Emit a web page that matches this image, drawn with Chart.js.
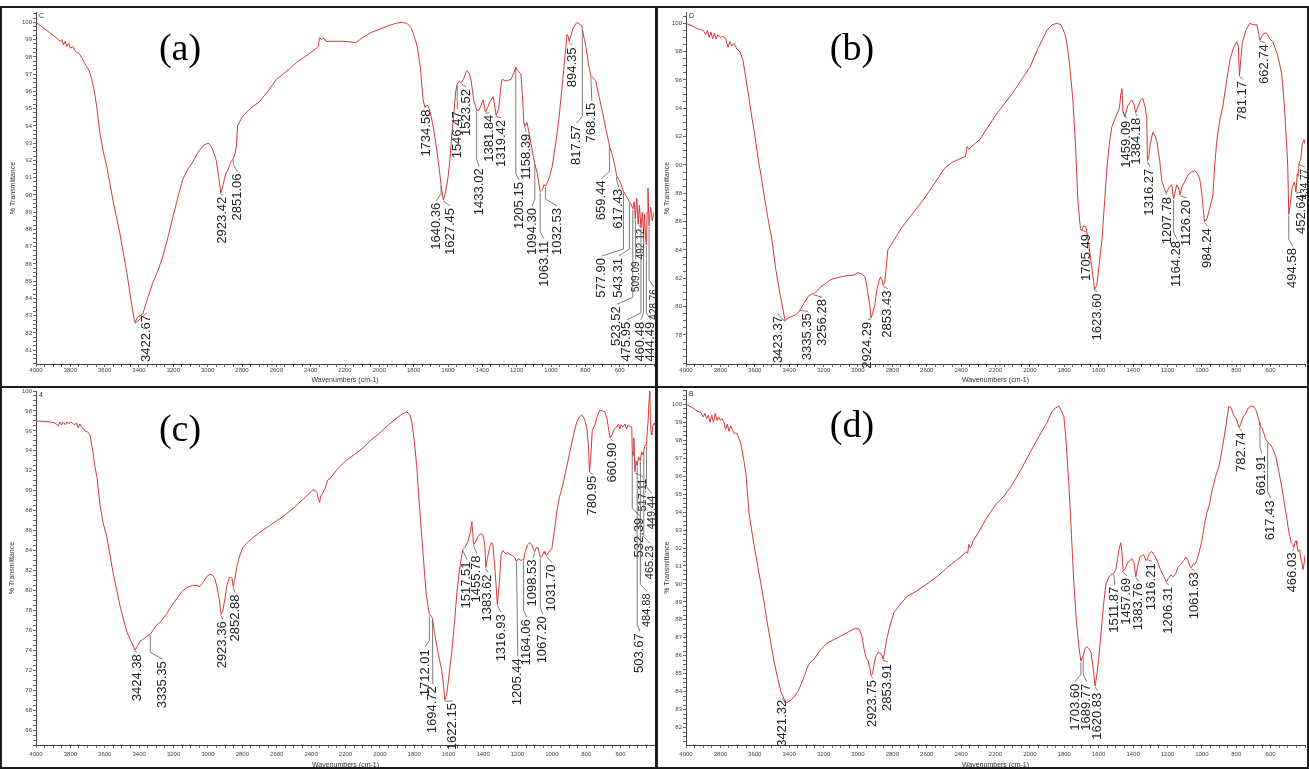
<!DOCTYPE html>
<html>
<head>
<meta charset="utf-8">
<title>FTIR spectra</title>
<script src="https://cdn.jsdelivr.net/npm/chart.js@4.4.0/dist/chart.umd.min.js"></script>
<style>
  body { margin: 0; background: #fff; width: 1309px; height: 770px; position: relative; overflow: hidden; }
  canvas { position: absolute; }
  .frame { position: absolute; border: 2px solid #1e1e1e; box-sizing: border-box; }
  .tag { position: absolute; font-family: "Liberation Serif", "Times New Roman", serif; font-size: 38px; color: #000;
         transform: translate(-50%, -50%); white-space: nowrap; }
</style>
</head>
<body>
<canvas id="chartA" width="653" height="378" style="left:2px;top:8px"></canvas>
<canvas id="chartB" width="650" height="378" style="left:657px;top:8px"></canvas>
<canvas id="chartC" width="653" height="382" style="left:2px;top:388px"></canvas>
<canvas id="chartD" width="650" height="382" style="left:657px;top:388px"></canvas>

<div class="tag" style="left:180px;top:47px">(a)</div>
<div class="tag" style="left:852px;top:47px">(b)</div>
<div class="tag" style="left:180px;top:428px">(c)</div>
<div class="tag" style="left:852px;top:424px">(d)</div>

<div class="frame" style="left:0;top:6px;width:658px;height:382px"></div>
<div class="frame" style="left:655px;top:6px;width:654px;height:382px"></div>
<div class="frame" style="left:0;top:386px;width:658px;height:383px"></div>
<div class="frame" style="left:655px;top:386px;width:654px;height:383px"></div>

<script>
// wavenumber (cm-1), % transmittance
var specA = [[4000,100.0],[3960,99.7],[3920,99.4],[3880,99.1],[3860,98.9],[3850,99.0],[3840,98.7],[3830,98.9],[3820,98.6],[3810,98.8],[3800,98.5],[3785,98.6],[3770,98.3],[3750,98.2],[3730,97.9],[3715,97.6],[3703,97.4],[3690,97.2],[3675,96.7],[3660,96.0],[3646,95.1],[3628,93.6],[3610,92.6],[3587,91.6],[3552,89.7],[3512,87.8],[3471,85.5],[3442,83.6],[3430,82.9],[3422.67,82.6],[3410,82.9],[3395,83.0],[3378,83.1],[3350,84.0],[3320,84.9],[3290,85.6],[3262,86.4],[3230,87.6],[3203,88.7],[3175,89.8],[3145,90.9],[3115,91.5],[3087,91.9],[3060,92.4],[3046,92.6],[3020,92.9],[2998,93.0],[2985,92.9],[2970,92.6],[2950,92.0],[2935,91.0],[2923.42,90.1],[2910,90.6],[2895,91.2],[2880,91.5],[2865,91.9],[2851.06,92.1],[2840,92.4],[2832,92.9],[2826,94.0],[2800,94.5],[2773,94.8],[2740,95.1],[2698,95.4],[2650,96.0],[2599,96.7],[2560,97.0],[2523,97.3],[2480,97.7],[2420,98.1],[2380,98.4],[2366,98.5],[2355,98.6],[2349,99.1],[2335,99.0],[2325,99.1],[2310,98.9],[2291,98.9],[2250,98.9],[2200,98.9],[2157,98.85],[2140,98.8],[2100,99.1],[2050,99.4],[2000,99.6],[1950,99.8],[1900,99.95],[1872,100.0],[1840,99.95],[1815,99.7],[1800,99.3],[1779,98.6],[1760,97.3],[1745,95.5],[1734.58,95.1],[1720,95.2],[1709,95.0],[1695,94.4],[1680,93.6],[1665,92.6],[1651,91.5],[1640.36,90.6],[1627.45,89.7],[1615,90.1],[1600,91.0],[1590,91.9],[1578,93.5],[1564,94.9],[1555,96.0],[1546.47,96.4],[1535,96.6],[1523.52,96.5],[1510,96.7],[1495,97.1],[1488,97.2],[1475,97.0],[1465,96.6],[1450,95.5],[1433.02,94.9],[1420,94.9],[1407,95.2],[1395,95.5],[1381.84,94.8],[1372,95.0],[1355,95.4],[1337,95.7],[1325,95.0],[1319.42,94.6],[1305,95.0],[1290,96.4],[1285,96.7],[1260,96.6],[1233,96.7],[1215,97.1],[1205.15,97.4],[1195,97.2],[1175,97.0],[1165,95.5],[1158.39,94.2],[1150,94.0],[1140,94.2],[1128,93.6],[1110,92.6],[1094.30,91.8],[1081,91.3],[1070,90.6],[1063.11,90.2],[1050,90.3],[1040,90.6],[1032.53,90.5],[1023,90.7],[1010,91.0],[994,91.6],[975,92.8],[953,94.5],[940,95.8],[924,97.4],[907,99.3],[900,99.2],[894.35,98.9],[885,99.2],[870,99.7],[849,100.0],[835,99.9],[820,99.8],[817.57,99.6],[805,99.0],[797,98.6],[780,97.5],[768.15,96.9],[755,96.8],[739,96.6],[720,95.7],[700,94.8],[680,93.8],[660,92.9],[659.44,92.8],[645,92.4],[630,91.8],[617.43,91.1],[605,90.9],[590,90.6],[577.90,90.2],[560,89.9],[543.31,89.6],[535,89.5],[523.52,89.2],[515,89.6],[509.09,88.6],[500,89.8],[492.12,88.3],[485,89.4],[475.95,88.1],[468,89.0],[460.48,87.7],[455,88.9],[450,87.6],[444.49,87.1],[440,89.0],[435,90.4],[428.76,88.2],[420,89.3],[410,88.5],[400,89.0]];

var specB = [[4000,100.0],[3960,99.8],[3930,99.6],[3900,99.5],[3885,99.2],[3875,99.5],[3865,99.0],[3855,99.4],[3845,98.9],[3835,99.3],[3825,98.9],[3815,99.2],[3800,99.0],[3785,99.1],[3770,98.9],[3755,98.3],[3745,98.7],[3733,98.4],[3720,98.6],[3705,98.2],[3686,98.0],[3669,97.4],[3658,96.6],[3645,95.6],[3630,94.4],[3616,93.3],[3600,92.1],[3581,90.5],[3560,89.0],[3541,87.5],[3520,86.0],[3500,84.7],[3480,82.8],[3465,81.7],[3450,80.7],[3436,79.8],[3423.37,79.0],[3407,79.2],[3385,79.3],[3366,79.4],[3345,79.6],[3335.35,79.8],[3315,80.2],[3291,80.7],[3270,80.9],[3256.28,80.9],[3240,81.1],[3215,81.4],[3192,81.6],[3160,81.9],[3134,82.0],[3100,82.1],[3058,82.2],[3030,82.2],[3000,82.4],[2975,82.3],[2959,82.1],[2950,81.6],[2942,80.9],[2930,80.0],[2924.29,79.2],[2915,79.5],[2901,80.2],[2890,81.2],[2878,81.8],[2868,82.1],[2860,81.9],[2853.43,81.5],[2845,81.7],[2837,82.6],[2826,84.0],[2800,84.5],[2785,84.8],[2750,85.5],[2700,86.3],[2628,87.4],[2560,88.6],[2494,89.8],[2450,90.2],[2395,90.5],[2375,90.6],[2365,91.3],[2355,91.1],[2340,91.3],[2320,91.5],[2291,91.8],[2200,93.5],[2099,95.1],[2050,96.0],[2000,96.9],[1950,98.3],[1901,99.5],[1870,99.9],[1843,100.0],[1820,99.9],[1808,99.6],[1795,99.2],[1785,98.6],[1770,97.2],[1750,94.6],[1735,91.5],[1721,87.5],[1710,86.0],[1705.49,85.5],[1698,85.4],[1688,85.7],[1674,85.6],[1660,84.6],[1640,82.8],[1630,81.8],[1623.60,81.2],[1611,81.5],[1595,83.2],[1581,84.7],[1565,87.5],[1552,89.8],[1538,91.5],[1523,92.7],[1494,93.6],[1480,94.0],[1470,95.1],[1465,95.4],[1459.09,93.8],[1448,93.4],[1430,94.2],[1407,94.6],[1395,94.3],[1384.18,93.7],[1372,94.1],[1355,94.6],[1343,94.7],[1330,94.1],[1320,93.3],[1316.27,90.3],[1308,90.6],[1300,91.5],[1285,92.3],[1270,92.0],[1262,91.7],[1245,90.3],[1233,88.9],[1220,88.4],[1207.78,88.0],[1195,88.3],[1185,88.5],[1175,88.6],[1164.28,87.6],[1155,88.1],[1146,88.6],[1136,88.4],[1126.20,87.9],[1115,88.5],[1100,88.8],[1081,89.3],[1060,89.5],[1041,89.6],[1025,89.4],[1012,89.0],[1000,88.0],[990,86.6],[984.24,86.0],[970,86.2],[955,86.9],[936,87.8],[925,90.0],[913,91.7],[895,93.2],[878,94.1],[860,95.6],[837,97.4],[815,98.3],[797,98.7],[788,98.4],[781.17,96.3],[775,97.2],[765,98.6],[744,99.5],[721,100.0],[700,99.9],[680,99.9],[670,99.3],[662.74,98.8],[650,99.1],[640,99.3],[622,99.3],[605,98.9],[587,98.7],[560,97.8],[535,96.4],[520,94.2],[507,91.5],[500,89.8],[494.58,86.5],[485,87.3],[475,88.4],[462,88.8],[452.64,88.1],[445,89.4],[440,89.2],[434.77,90.1],[425,90.4],[415,91.5],[405,91.8],[400,91.5]];

var specC = [[4000,97.0],[3960,96.95],[3920,96.9],[3890,96.8],[3870,96.5],[3860,96.9],[3850,96.6],[3840,96.9],[3830,96.6],[3820,96.9],[3810,96.7],[3800,96.9],[3790,96.8],[3775,96.6],[3765,96.8],[3755,96.3],[3745,96.7],[3730,96.3],[3715,96.0],[3700,95.9],[3686,95.6],[3678,94.8],[3669,93.9],[3658,92.5],[3645,91.3],[3628,88.6],[3610,86.8],[3587,85.3],[3552,81.8],[3512,78.5],[3490,77.0],[3471,75.8],[3450,75.0],[3436,74.5],[3424.38,74.0],[3410,74.4],[3395,74.9],[3378,75.1],[3355,75.4],[3335.35,75.6],[3320,76.0],[3300,76.5],[3279,76.8],[3260,77.2],[3238,77.7],[3210,78.5],[3180,79.2],[3150,79.9],[3122,80.3],[3090,80.5],[3064,80.5],[3046,80.4],[3025,80.9],[3006,81.4],[2990,81.6],[2977,81.6],[2960,81.2],[2948,80.4],[2935,79.2],[2923.36,77.6],[2913,78.0],[2900,79.3],[2890,80.5],[2875,81.3],[2865,81.3],[2860,81.2],[2852.88,80.4],[2845,81.0],[2832,82.4],[2815,83.5],[2797,84.3],[2770,84.8],[2738,85.3],[2700,85.8],[2650,86.4],[2600,87.0],[2564,87.4],[2500,88.3],[2450,89.1],[2400,89.9],[2390,90.1],[2375,90.0],[2366,89.8],[2358,89.2],[2350,88.8],[2345,89.5],[2337,89.6],[2320,90.2],[2302,91.1],[2291,91.2],[2250,92.1],[2200,93.0],[2150,93.6],[2099,94.3],[2050,95.1],[2000,95.8],[1950,96.6],[1901,97.3],[1870,97.7],[1843,97.9],[1825,97.6],[1814,96.9],[1800,95.0],[1785,92.3],[1770,88.5],[1750,83.9],[1730,79.5],[1712.01,77.6],[1700,77.4],[1694.72,77.2],[1680,75.5],[1660,73.6],[1640,72.0],[1630,70.5],[1622.15,69.0],[1611,69.6],[1600,71.2],[1582,73.8],[1565,77.0],[1552,79.8],[1538,82.0],[1523,83.6],[1517.51,84.1],[1506,84.3],[1488,84.9],[1475,85.8],[1465,86.9],[1460,85.8],[1455.78,84.6],[1448,84.7],[1430,85.4],[1415,85.7],[1401,85.6],[1390,84.6],[1383.62,82.3],[1375,83.2],[1360,84.4],[1350,84.8],[1343,84.6],[1330,82.0],[1316.93,78.6],[1305,80.8],[1295,83.6],[1285,84.0],[1270,83.7],[1255,83.8],[1244,83.6],[1230,83.5],[1215,83.3],[1205.44,82.9],[1195,83.2],[1180,83.0],[1169,83.1],[1164.06,83.0],[1155,83.9],[1140,84.6],[1128,84.8],[1115,84.5],[1105,84.0],[1098.53,83.9],[1090,84.3],[1081,84.3],[1072,83.7],[1067.20,83.3],[1058,83.4],[1045,83.9],[1040,83.7],[1031.70,83.5],[1020,83.8],[1000,84.2],[985,86.0],[971,87.9],[955,89.4],[936,90.6],[915,92.3],[895,93.9],[875,95.5],[855,96.9],[840,97.4],[826,97.6],[810,97.2],[797,96.3],[787,94.5],[780.95,91.9],[773,93.5],[765,96.0],[750,96.6],[735,97.5],[721,98.1],[705,98.0],[692,97.9],[680,97.3],[670,96.2],[660.90,95.3],[650,95.6],[640,96.1],[630,96.3],[622,96.4],[612,96.7],[605,96.2],[597,96.6],[587,96.4],[575,96.7],[565,96.2],[555,96.6],[545,96.4],[535,96.4],[532.39,94.0],[527,93.5],[523,95.3],[517.11,91.9],[510,93.0],[503.67,92.5],[495,93.4],[490,93.1],[484.88,93.0],[478,93.9],[470,93.6],[465.23,94.0],[458,94.6],[449.44,94.5],[445,96.0],[440,97.0],[433,99.5],[430,100.0],[427,97.0],[422,95.8],[419,95.6],[412,96.5],[405,96.8],[400,96.6]];

var specD = [[4000,100.0],[3960,99.8],[3930,99.6],[3913,99.55],[3900,99.3],[3890,99.5],[3880,99.2],[3870,99.4],[3860,99.0],[3850,99.4],[3840,99.0],[3830,99.5],[3820,99.1],[3810,99.3],[3800,99.1],[3790,99.2],[3779,99.0],[3770,98.6],[3760,98.9],[3750,98.5],[3740,98.8],[3730,98.6],[3721,98.4],[3705,98.4],[3692,98.1],[3683,97.9],[3674,97.4],[3662,96.8],[3651,96.1],[3634,94.0],[3620,93.1],[3605,92.2],[3585,91.1],[3564,90.0],[3546,89.0],[3529,87.9],[3508,86.8],[3488,85.7],[3468,84.8],[3448,84.0],[3430,83.6],[3421.32,83.4],[3413,83.4],[3395,83.5],[3372,83.7],[3350,84.0],[3331,84.4],[3310,84.9],[3297,85.3],[3280,85.6],[3256,85.8],[3220,86.3],[3180,86.7],[3140,86.9],[3099,87.1],[3060,87.3],[3023,87.5],[2994,87.5],[2977,87.1],[2965,86.4],[2953,85.9],[2940,85.7],[2930,85.3],[2923.75,84.9],[2915,85.0],[2905,85.6],[2895,86.0],[2880,86.2],[2866,86.1],[2860,86.0],[2853.91,85.8],[2845,86.2],[2831,87.0],[2810,87.8],[2791,88.4],[2750,88.9],[2715,89.3],[2660,89.6],[2599,90.0],[2540,90.4],[2483,90.9],[2430,91.3],[2390,91.6],[2372,91.8],[2362,91.7],[2355,92.2],[2345,92.0],[2330,92.4],[2297,92.9],[2250,93.7],[2200,94.4],[2150,94.9],[2105,95.5],[2050,96.4],[2000,97.3],[1948,98.2],[1900,99.0],[1872,99.6],[1850,99.8],[1831,99.9],[1815,99.6],[1802,99.3],[1790,98.0],[1773,95.5],[1758,92.7],[1744,90.0],[1730,88.0],[1715,86.5],[1703.60,85.7],[1696,85.9],[1689.77,86.0],[1680,86.4],[1669,86.5],[1657,86.4],[1645,86.2],[1632,85.3],[1620.83,84.3],[1610,85.0],[1600,85.8],[1587,87.2],[1572,88.8],[1558,90.0],[1540,90.4],[1529,90.5],[1511.87,90.6],[1500,90.8],[1490,91.4],[1480,92.0],[1471,92.3],[1465,91.8],[1457.69,90.7],[1448,90.8],[1430,91.2],[1407,91.4],[1395,91.2],[1383.76,90.4],[1375,90.9],[1360,91.5],[1345,91.6],[1337,91.6],[1325,91.3],[1316.21,91.4],[1305,91.7],[1291,91.8],[1275,91.6],[1260,91.3],[1245,90.9],[1230,90.6],[1215,90.3],[1206.31,90.1],[1195,90.3],[1180,90.5],[1165,90.4],[1151,90.6],[1140,90.9],[1122,91.1],[1105,91.3],[1093,91.5],[1080,91.3],[1070,91.0],[1061.63,90.9],[1050,91.1],[1040,91.1],[1029,91.3],[1015,91.8],[1000,92.4],[985,93.3],[970,94.0],[959,94.3],[940,95.2],[920,96.0],[901,96.5],[880,97.6],[860,98.8],[843,99.9],[830,99.8],[814,99.4],[800,99.2],[790,98.9],[782.74,98.7],[774,98.9],[760,99.3],[744,99.5],[730,99.8],[715,99.9],[700,99.9],[686,99.7],[675,99.4],[665,99.0],[661.91,98.8],[650,98.7],[640,98.4],[630,98.1],[617.43,97.9],[605,97.8],[590,97.6],[570,97.1],[555,96.4],[535,95.4],[515,94.2],[494,92.9],[480,92.3],[470,92.2],[466.03,92.0],[458,92.3],[452,92.4],[448,92.2],[440,91.8],[430,91.9],[425,91.4],[418,91.2],[412,90.8],[407,91.0],[400,91.6]];

// labelled peak positions (cm-1)
var peaksA = [3422.67, 2923.42, 2851.06, 1734.58, 1640.36, 1627.45, 1546.47, 1523.52, 1433.02, 1381.84, 1319.42, 1205.15, 1158.39, 1094.30, 1063.11, 1032.53, 894.35, 817.57, 768.15, 659.44, 617.43, 577.90, 543.31, 523.52, 509.09, 492.12, 475.95, 460.48, 444.49, 428.76];
var peaksB = [3423.37, 3335.35, 3256.28, 2924.29, 2853.43, 1705.49, 1623.60, 1459.09, 1384.18, 1316.27, 1207.78, 1164.28, 1126.20, 984.24, 781.17, 662.74, 494.58, 452.64, 434.77];
var peaksC = [3424.38, 3335.35, 2923.36, 2852.88, 1712.01, 1694.72, 1622.15, 1517.51, 1455.78, 1383.62, 1316.93, 1205.44, 1164.06, 1098.53, 1067.20, 1031.70, 780.95, 660.90, 532.39, 517.11, 503.67, 484.88, 465.23, 449.44];
var peaksD = [3421.32, 2923.75, 2853.91, 1703.60, 1689.77, 1620.83, 1511.87, 1457.69, 1383.76, 1316.21, 1206.31, 1061.63, 782.74, 661.91, 617.43, 466.03];

var xTicks = [4000, 3800, 3600, 3400, 3200, 3000, 2800, 2600, 2400, 2200, 2000, 1800, 1600, 1400, 1200, 1000, 800, 600];
var yTicksA = [81, 82, 83, 84, 85, 86, 87, 88, 89, 90, 91, 92, 93, 94, 95, 96, 97, 98, 99, 100];
var yTicksB = [78, 80, 82, 84, 86, 88, 90, 92, 94, 96, 98, 100];
var yTicksC = [66, 68, 70, 72, 74, 76, 78, 80, 82, 84, 86, 88, 90, 92, 94, 96, 98, 100];
var yTicksD = [82, 83, 84, 85, 86, 87, 88, 89, 90, 91, 92, 93, 94, 95, 96, 97, 98, 99, 100];

// where each peak label sits: [x in cm-1, top of text in %T, font size]
var spotsA = [[3355,83.1],[2913,89.95],[2826,91.3],[1727,95.0],[1669,89.6],[1587,89.3],[1546,94.9],[1494,96.2],[1419,91.6],[1360,94.7],[1291,94.4],[1186,90.8],[1145,93.6],[1110,89.3],[1041,87.4],[965,89.3],[878,98.6],[849,94.1],[762,95.4],[704,90.9],[605,90.4],[704,86.4],[605,86.4],[616,83.6],[506,86.2,10],[477,88.1,10],[558,82.7],[477,82.7],[419,82.7],[401,84.6,10]];
var spotsB = [[3465,79.4],[3291,79.6],[3209,80.6],[2942,79.0],[2826,81.2],[1674,85.2],[1605,81.0],[1436,93.2],[1378,93.4],[1302,89.8],[1203,87.8],[1145,84.7],[1087,87.6],[965,85.6],[762,96.0],[634,98.6],[471,84.2],[419,88.0],[401,89.8,10]];
var spotsC = [[3413,73.7],[3262,73.0],[2913,77.0],[2843,79.7],[1738,74.2],[1692,70.5],[1576,68.8],[1494,83.0],[1436,83.6],[1372,81.7],[1296,77.7],[1198,73.3],[1145,77.2],[1110,83.2],[1052,77.5],[1000,82.7],[762,91.6],[645,94.9],[488,87.4],[471,91.3,11],[488,75.8],[447,79.8,11],[430,84.6,11],[419,89.6,11]];
var spotsD = [[3442,83.6],[2913,84.7],[2826,85.6],[1738,84.5],[1669,84.5],[1605,84.0],[1506,89.9],[1436,90.4],[1366,90.1],[1291,91.2],[1192,89.9],[1041,90.7],[767,98.5],[651,97.2],[599,94.7],[471,91.8]];

var panels = [
    { id: 'chartA', spec: specA, peaks: peaksA, spots: spotsA, yTicks: yTicksA, yMin: 80.2, yMax: 100.6, minor: 0.25, mark: 'C',
      pad: { left: 0, right: 1, top: 4, bottom: 0 }, yWidth: 34, xHeight: 22, xTickPad: 0, xTitlePad: 2, yTitlePad: 7 },
    { id: 'chartB', spec: specB, peaks: peaksB, spots: spotsB, yTicks: yTicksB, yMin: 75.95, yMax: 100.8, minor: 0.5, mark: 'D',
      pad: { left: 0, right: 2, top: 4, bottom: 0 }, yWidth: 29, xHeight: 22, xTickPad: 0, xTitlePad: 2, yTitlePad: 6 },
    { id: 'chartC', spec: specC, peaks: peaksC, spots: spotsC, yTicks: yTicksC, yMin: 64.5, yMax: 100, minor: 0.5, mark: '4',
      pad: { left: 0, right: 0, top: 3, bottom: 0 }, yWidth: 34, xHeight: 25, xTickPad: 3, xTitlePad: 1, yTitlePad: 6 },
    { id: 'chartD', spec: specD, peaks: peaksD, spots: spotsD, yTicks: yTicksD, yMin: 81.03, yMax: 100.8, minor: 0.25, mark: 'B',
      pad: { left: 0, right: 2, top: 2, bottom: 0 }, yWidth: 29, xHeight: 25, xTickPad: 3, xTitlePad: 1, yTitlePad: 6 }
];

Chart.defaults.font.family = '"Liberation Sans", Arial, sans-serif';

function stepTicks(min, max, step) {
    var out = [];
    for (var k = Math.ceil(min / step); k * step <= max + 1e-9; k++) {
        out.push({ value: k * step });
    }
    return out;
}

function hasTick(list, v) {
    for (var i = 0; i < list.length; i++) {
        if (Math.abs(list[i] - v) < 1e-6) return true;
    }
    return false;
}

// rotated peak numbers with leader lines, plus the small sample mark
function labelPlugin(p) {
    return {
        id: 'peakLabels',
        afterDatasetsDraw: function (chart) {
            var ctx = chart.ctx;
            var x = chart.scales.x, y = chart.scales.y;
            ctx.save();
            ctx.lineWidth = 0.8;
            ctx.strokeStyle = '#5a5a5a';
            ctx.fillStyle = '#232323';
            p.peaks.forEach(function (wn, i) {
                var pt = p.spec.find(function (d) { return d[0] === wn; });
                if (!pt) return;
                var spot = p.spots[i];
                var px = x.getPixelForValue(wn);
                var py = y.getPixelForValue(pt[1]);
                var lx = x.getPixelForValue(spot[0]);
                var ly = y.getPixelForValue(spot[1]);
                ctx.beginPath();
                ctx.moveTo(px, py + 1);
                if (ly - py > 12 && Math.abs(lx - px) > 1.5) {
                    ctx.lineTo(px, ly - 8);
                }
                ctx.lineTo(lx, ly - 1);
                ctx.stroke();
                ctx.save();
                ctx.translate(lx, ly + 1);
                ctx.rotate(-Math.PI / 2);
                ctx.font = (spot[2] || 13) + 'px "Liberation Sans", Arial, sans-serif';
                ctx.textAlign = 'right';
                ctx.textBaseline = 'middle';
                ctx.fillText(wn.toFixed(2), 0, 0);
                ctx.restore();
            });
            ctx.font = '7px "Liberation Sans", Arial, sans-serif';
            ctx.textAlign = 'left';
            ctx.textBaseline = 'top';
            ctx.fillStyle = '#333';
            ctx.fillText(p.mark, chart.chartArea.left + 3, chart.chartArea.top + 1);
            ctx.restore();
        }
    };
}

function buildChart(p) {
    var ctx = document.getElementById(p.id).getContext('2d');
    return new Chart(ctx, {
        type: 'line',
        data: {
            datasets: [{
                data: p.spec.map(function (d) { return { x: d[0], y: d[1] }; }),
                borderColor: 'rgb(208, 58, 58)',
                borderWidth: 1,
                pointRadius: 0,
                tension: 0,
                fill: false
            }]
        },
        options: {
            responsive: false,
            animation: false,
            devicePixelRatio: 1,
            layout: { padding: p.pad },
            plugins: { legend: { display: false }, tooltip: { enabled: false } },
            scales: {
                x: {
                    type: 'linear',
                    reverse: true,
                    min: 400,
                    max: 4000,
                    afterBuildTicks: function (s) { s.ticks = stepTicks(400, 4000, 50); },
                    afterFit: function (s) { s.height = p.xHeight; s.paddingLeft = 0; s.paddingRight = 0; },
                    ticks: {
                        autoSkip: false, maxRotation: 0, minRotation: 0,
                        font: { size: 6 }, color: '#444', padding: p.xTickPad,
                        callback: function (v) { return hasTick(xTicks, v) ? String(v) : ''; }
                    },
                    grid: { drawOnChartArea: false, tickLength: 3, tickColor: '#666' },
                    border: { color: '#444', width: 1 },
                    title: { display: true, text: 'Wavenumbers (cm-1)', font: { size: 7 }, color: '#333',
                             padding: { top: 0, bottom: p.xTitlePad } }
                },
                y: {
                    min: p.yMin,
                    max: p.yMax,
                    afterBuildTicks: function (s) { s.ticks = stepTicks(p.yMin, p.yMax, p.minor); },
                    afterFit: function (s) { s.width = p.yWidth; s.paddingTop = 0; s.paddingBottom = 0; },
                    ticks: {
                        autoSkip: false, font: { size: 6 }, color: '#444', padding: 1,
                        callback: function (v) { return hasTick(p.yTicks, v) ? String(Math.round(v)) : ''; }
                    },
                    grid: { drawOnChartArea: false, tickLength: 3, tickColor: '#666' },
                    border: { color: '#444', width: 1 },
                    title: { display: true, text: '% Transmittance', font: { size: 7 }, color: '#333',
                             padding: { top: p.yTitlePad, bottom: 0 } }
                }
            }
        },
        plugins: [labelPlugin(p)]
    });
}

panels.forEach(buildChart);
</script>
</body>
</html>
